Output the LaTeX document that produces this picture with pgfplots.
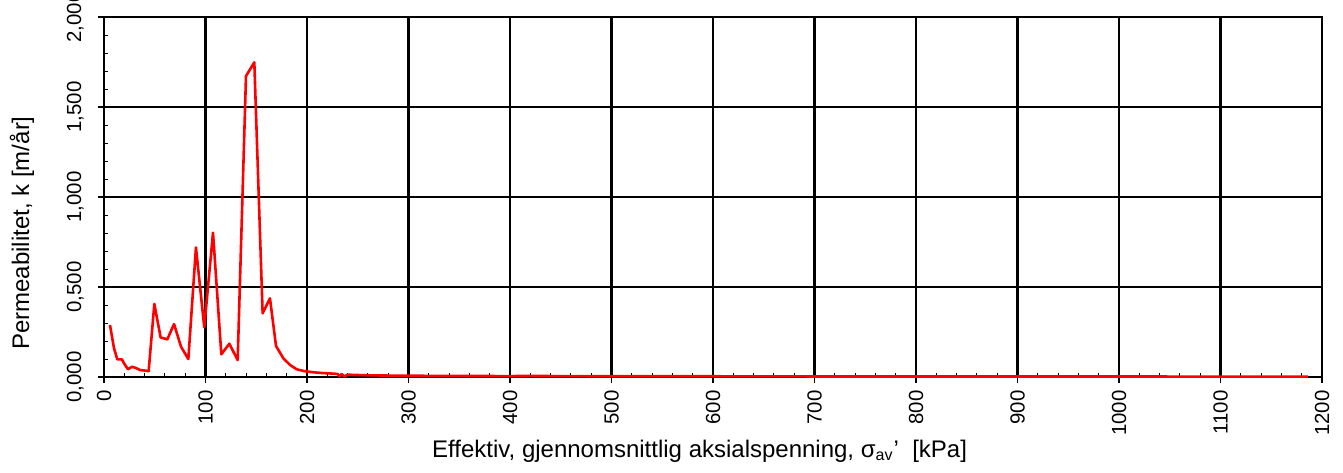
\documentclass[border=0pt]{standalone}
\usepackage{pgfplots}
\pgfplotsset{compat=1.18}
\usepackage{fontspec}
\setmainfont{Liberation Sans}

\pgfplotstableread{
x y
5.9 0.289
9.9 0.159
13.1 0.098
17.7 0.098
19.7 0.076
23.6 0.043
27.6 0.057
31.5 0.050
35.5 0.039
44.0 0.033
49.6 0.406
55.8 0.220
62.4 0.209
69.0 0.294
75.9 0.168
83.1 0.100
90.6 0.720
98.8 0.276
107.4 0.802
115.6 0.126
123.5 0.185
131.7 0.094
139.9 1.672
148.1 1.748
156.3 0.354
163.5 0.437
169.5 0.172
176.7 0.104
183.3 0.067
189.8 0.043
197 0.033
205 0.027
215 0.022
225 0.019
230 0.017
232 0.004
234 0.016
237 0.003
240 0.013
250 0.011
265 0.009
280 0.008
300 0.007
350 0.006
400 0.005
420 0.006
450 0.005
500 0.004
600 0.004
700 0.003
800 0.003
900 0.003
1000 0.003
1100 0.002
1186 0.002
}\permdata

\begin{document}
\begin{tikzpicture}
\begin{axis}[
    at={(0,0)}, anchor=south west,
    scale only axis,
    width=609pt, height=180pt,
    xmin=0, xmax=1200, ymin=0, ymax=2,
    xtick distance=100, ytick distance=0.5,
    minor x tick num=4, minor y tick num=4,
    tick pos=left,
    tick align=outside,
    major tick length=3pt, minor tick length=2pt,
    every major tick/.style={black, line width=0.8pt},
    every minor tick/.style={black, line width=0.5pt},
    minor x tick style={yshift=2pt},
    minor y tick style={xshift=2pt},
    grid=major,
    major grid style={black, line width=1.4pt},
    axis line style={black, line width=1.4pt},
    /pgf/number format/assume math mode=true,
    y tick label style={/pgf/number format/fixed, /pgf/number format/fixed zerofill,
        /pgf/number format/precision=3, /pgf/number format/use comma},
    x tick label style={/pgf/number format/fixed, /pgf/number format/1000 sep={}},
    yticklabel style={rotate=90, anchor=south, inner ysep=6.9pt, font=\fontsize{10.2}{12}\selectfont},
    xticklabel style={rotate=90, anchor=east, inner xsep=3.6pt, font=\fontsize{10.2}{12}\selectfont},
    scaled y ticks=false,
    xlabel={Effektiv, gjennomsnittlig aksialspenning, σ\textsubscript{av}'\ \ [kPa]},
    ylabel={Permeabilitet, k [m/år]},
    xlabel style={at={(axis description cs:0.489,-0.2056)}, anchor=center, font=\fontsize{12}{14}\selectfont},
    ylabel style={at={(axis description cs:-0.0673,0.4)}, anchor=center, rotate=0, font=\fontsize{12}{14}\selectfont},
]
\addplot[red, line width=1.3pt, line join=round] table[x=x, y=y] {\permdata};
\end{axis}
\pgfresetboundingbox
\path (-52pt,-47.5pt) rectangle (619.5pt,188.5pt);
\end{tikzpicture}
\end{document}
